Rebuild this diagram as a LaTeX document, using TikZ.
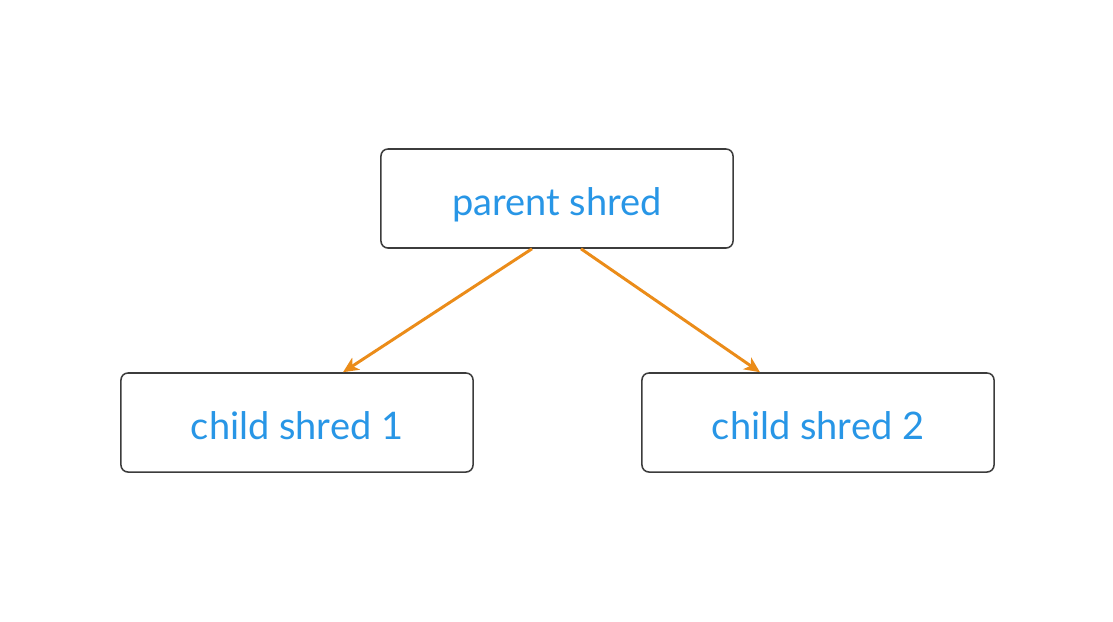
\documentclass[tikz,border=0pt]{standalone}
\usepackage{fontspec}
\setmainfont{Lato}
\usetikzlibrary{arrows.meta}
\definecolor{shredblue}{RGB}{40,150,230}
\definecolor{shredorange}{RGB}{235,140,25}
\definecolor{shredgray}{RGB}{60,60,60}

\begin{document}
\begin{tikzpicture}[x=0.025cm,y=-0.025cm,
		shred node/.style={rectangle,rounded corners=5pt,draw=shredgray,line width=1.1pt,
			minimum width=8.8cm,minimum height=2.475cm,text=shredblue,font=\fontsize{27}{32}\selectfont},
		fork/.style={-{Stealth[length=11pt,width=10pt,inset=3pt]},draw=shredorange,line width=2.1pt}]
		\useasboundingbox[fill=white] (0,0) rectangle (1113,621);
		\node[shred node] (parent) at (557,198.5) {\raisebox{-12pt}[0pt][0pt]{parent shred}};
		\node[shred node] (child1) at (297,422.5) {\raisebox{-12pt}[0pt][0pt]{child shred 1}};
		\node[shred node] (child2) at (818,422.5) {\raisebox{-12pt}[0pt][0pt]{child shred 2}};

		\path ([xshift=-0.625cm]parent.south) edge[fork] ([xshift=1.15cm]child1.north);
		\path ([xshift=0.6cm]parent.south) edge[fork] ([xshift=-1.45cm]child2.north);
\end{tikzpicture}
\end{document}
